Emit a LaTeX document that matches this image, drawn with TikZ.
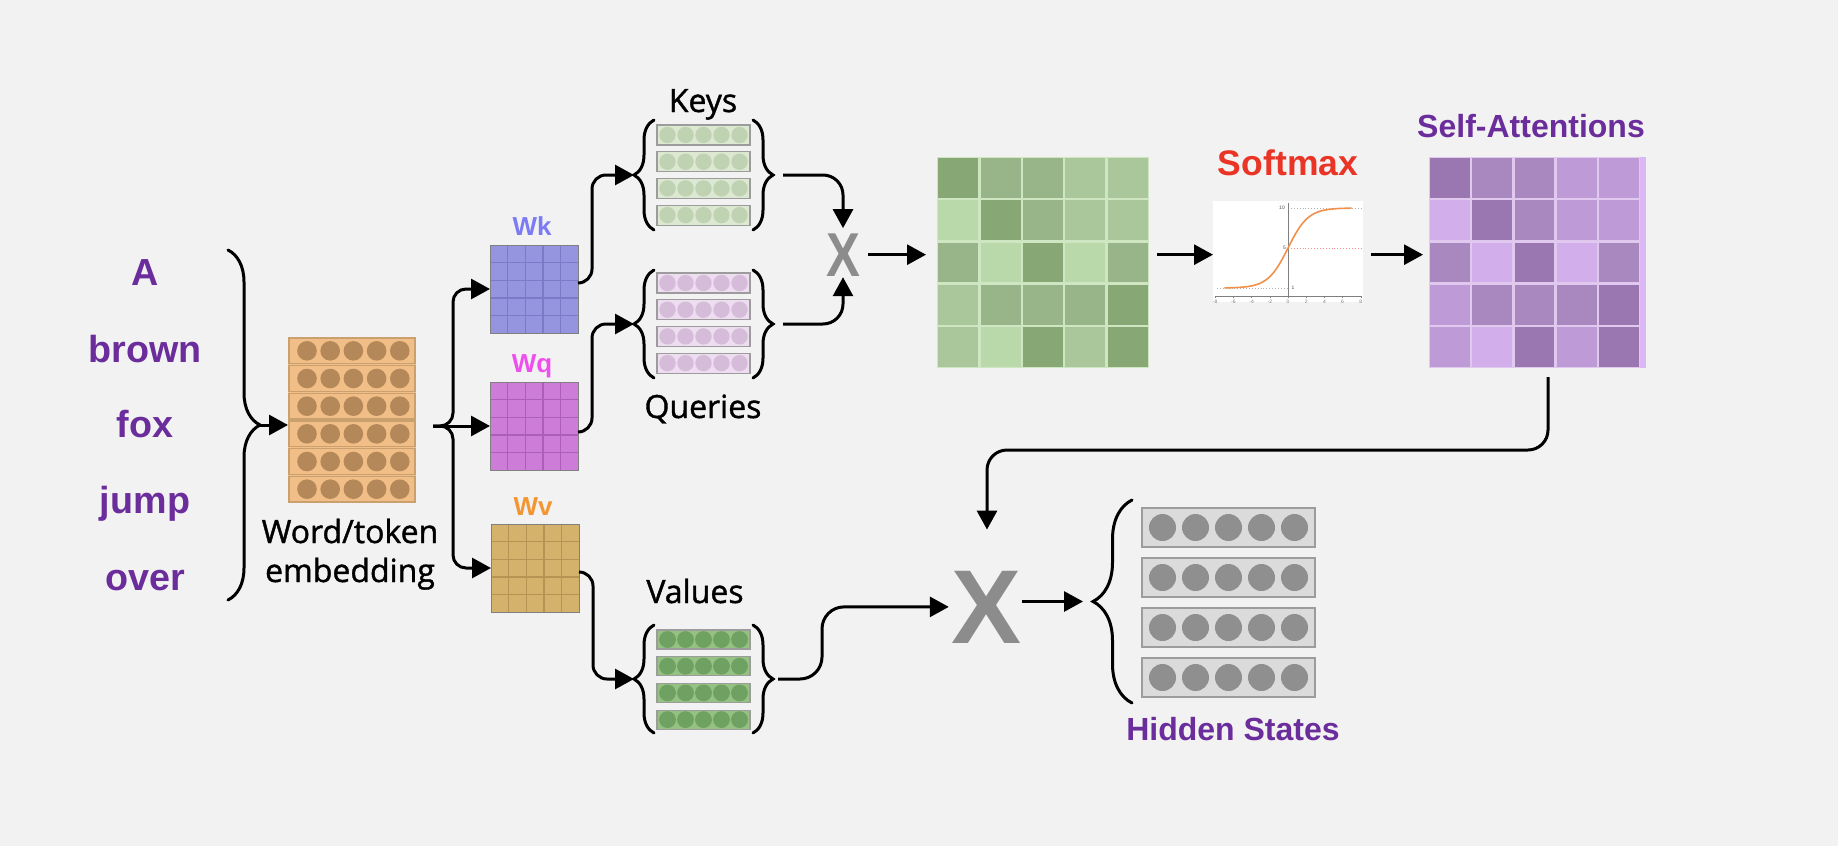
\documentclass[tikz,border=0pt]{standalone}
\usepackage{graphicx}
\usepackage{fontspec}
\setmainfont{Liberation Sans}
\newfontfamily\osans[FakeBold=1.2]{Open Sans}
\usetikzlibrary{decorations.pathreplacing,arrows.meta}

\definecolor{bg}{HTML}{F2F2F2}
\definecolor{purp}{HTML}{6B2D9B}
\definecolor{embfill}{HTML}{F0BE86}
\definecolor{embline}{HTML}{C9A06E}
\definecolor{embdot}{HTML}{B48858}
\definecolor{wkfill}{HTML}{9595DF}
\definecolor{wkline}{HTML}{7A7AC6}
\definecolor{wqfill}{HTML}{CD7DD8}
\definecolor{wqline}{HTML}{AD5DBA}
\definecolor{wvfill}{HTML}{D5B26C}
\definecolor{wvline}{HTML}{B69453}
\definecolor{keyfill}{HTML}{DDE8D3}
\definecolor{keydot}{HTML}{BFD2B1}
\definecolor{qfill}{HTML}{EEDDF0}
\definecolor{qdot}{HTML}{D5BCD9}
\definecolor{vfill}{HTML}{95C283}
\definecolor{vdot}{HTML}{6FA162}
\definecolor{hidfill}{HTML}{DBDBDB}
\definecolor{hiddot}{HTML}{8F8F8F}
\definecolor{rowline}{HTML}{9C9C9C}
\definecolor{g1}{HTML}{87A874}
\definecolor{g2}{HTML}{97B588}
\definecolor{g3}{HTML}{A9C79B}
\definecolor{g4}{HTML}{BAD9AA}
\definecolor{gsep}{HTML}{CFE6C3}
\definecolor{p1}{HTML}{9A77B1}
\definecolor{p2}{HTML}{A988C0}
\definecolor{p3}{HTML}{BE9BD6}
\definecolor{p4}{HTML}{D2AFEA}
\definecolor{psep}{HTML}{E0C8EE}
\definecolor{pstrip}{HTML}{DAB8F3}
\definecolor{wkc}{HTML}{7B7BF3}
\definecolor{wqc}{HTML}{EE4FEE}
\definecolor{wvc}{HTML}{F39632}
\definecolor{softred}{HTML}{EA3425}
\definecolor{xgray}{HTML}{8C8C8C}
\definecolor{sigm}{HTML}{F0904A}

\tikzset{
  arr/.style={line width=3pt, -{Triangle[length=19pt,width=20pt]}},
  curly/.style={line width=3pt, line cap=round, decorate, decoration={brace, amplitude=#1}},
  wordtxt/.style={font=\bfseries\fontsize{37.7}{40}\selectfont, text=purp, anchor=base},
  lbl/.style={font=\osans\fontsize{32}{38}\selectfont, anchor=base},
  wlbl/.style={font=\bfseries\fontsize{26}{30}\selectfont, anchor=base},
  ttl/.style={font=\bfseries\fontsize{32}{36}\selectfont, text=purp, anchor=base},
  box/.style={inner sep=0pt, outer sep=0pt, draw=none},
  tiny/.style={font=\fontsize{5}{5}\selectfont, text=gray, inner sep=0pt},
}

\newcommand\wgrid[4]{%
  \fill[#3] (#1,#2) rectangle ++(88,88);
  \foreach \k in {1,...,4}{
    \draw[#4, line width=1.4pt] ({#1+\k*17.6},#2) -- ++(0,88);
    \draw[#4, line width=1.4pt] (#1,{#2+\k*17.6}) -- ++(88,0);
  }
  \draw[gray, line width=1pt] (#1,#2) rectangle ++(88,88);
}

\newcommand\rowstack[9]{%
  \foreach \r in {0,...,3}{
    \draw[fill=#6, draw=rowline, line width=1.2pt] (#1,{#2+\r*#5}) rectangle ++(#3,#4);
    \foreach \c in {0,...,4}{
      \fill[#7] ({#1+(#3-4*#9)/2+\c*#9},{#2+\r*#5+#4/2}) circle (#8);
    }
  }
}

\begin{document}
\begin{tikzpicture}[x=1pt,y=-1pt]
\fill[bg] (0,0) rectangle (1838,846);
\useasboundingbox (0,0) rectangle (1838,846);

% input words
\node[wordtxt] (w1) at (145,285) {A};
\node[wordtxt] (w2) at (145,362) {brown};
\node[wordtxt] (w3) at (145,437) {fox};
\node[wordtxt] (w4) at (145,513) {jump};
\node[wordtxt] (w5) at (145,590) {over};
\draw[curly=32pt] (228,250) -- (228,600);
\coordinate (btip) at (260,425);

% embedding
\node[box, fill=embfill, minimum width=128pt, minimum height=166pt] (emb) at (352,420) {};
\foreach \r in {0,...,5}{
  \draw[embline, line width=1.2pt] (289,{337+\r*27.67+1}) rectangle ++(126,25.67);
  \foreach \c in {0,...,4}
    \fill[embdot] ({307+\c*23.2},{337+\r*27.67+13.83}) circle (9.8pt);
}
\node[lbl] (embla) at (350,543) {Word/token};
\node[lbl] (emblb) at (350,582) {embedding};
\draw[arr] (btip) -- (btip -| emb.west);

% weight matrices
\node[box, minimum size=88pt] (wk) at (534,289) {};
\wgrid{490}{245}{wkfill}{wkline}
\node[box, minimum size=88pt] (wq) at (534,426) {};
\wgrid{490}{382}{wqfill}{wqline}
\node[box, minimum size=88pt] (wv) at (535,568) {};
\wgrid{491}{524}{wvfill}{wvline}
\node[wlbl, text=wkc] (wkl) at (532,235) {Wk};
\node[wlbl, text=wqc] (wql) at (532,372) {Wq};
\node[wlbl, text=wvc] (wvl) at (533,515) {Wv};

\coordinate (sp0) at (433,426);
\coordinate (sp) at (453,426);
\draw[arr] (sp0) -- (wq.west);
\draw[arr, rounded corners=13pt] (sp0) -- (sp) |- (wk.west);
\draw[arr, rounded corners=13pt] (sp0) -- (sp) |- (wv.west);

% keys / queries / values
\node[box, minimum width=93pt, minimum height=108pt] (keys) at (703.5,175) {};
\rowstack{657}{125}{93}{20}{26.7}{keyfill}{keydot}{8.2pt}{18}
\draw[curly=20pt] (654,230) -- (654,120);
\draw[curly=20pt] (753,120) -- (753,230);
\coordinate (kL) at (634,175);
\coordinate (kR) at (773,175);

\node[box, minimum width=93pt, minimum height=108pt] (queries) at (703.5,324) {};
\rowstack{657}{273}{93}{20}{26.7}{qfill}{qdot}{8.2pt}{18}
\draw[curly=20pt] (654,378) -- (654,270);
\draw[curly=20pt] (753,270) -- (753,378);
\coordinate (qL) at (634,324);
\coordinate (qR) at (773,324);

\node[box, minimum width=93pt, minimum height=108pt] (values) at (703.5,679) {};
\rowstack{657}{630}{93}{19}{26.7}{vfill}{vdot}{8.4pt}{18}
\draw[curly=20pt] (654,733) -- (654,625);
\draw[curly=20pt] (753,625) -- (753,733);
\coordinate (vL) at (634,679);
\coordinate (vR) at (773,679);

\node[lbl] (keysl) at (703,112) {Keys};
\node[lbl] (queriesl) at (703,418) {Queries};
\node[lbl] (valuesl) at (695,603) {Values};

\draw[arr, rounded corners=14pt] ([yshift=6pt]wk.east) -- ++(14,0) |- (kL);
\draw[arr, rounded corners=14pt] ([yshift=-6pt]wq.east) -- ++(14,0) |- (qL);
\draw[arr, rounded corners=14pt] ([yshift=-4pt]wv.east) -- ++(14,0) |- (vL);

% small X
\node[anchor=base, inner sep=0pt, text=xgray, font=\bfseries\fontsize{62}{62}\selectfont] (xs) at (843,276) {\scalebox{0.82}[1]{X}};
\draw[arr, rounded corners=20pt, shorten <=10pt] (kR) -| ([yshift=5pt]xs.north);
\draw[arr, rounded corners=20pt, shorten <=10pt] (qR) -| ([yshift=-1pt]xs.south);

% score matrix
\node[box, fill=gsep, minimum width=212pt, minimum height=211pt] (scores) at (1043,262.5) {};
\foreach \v [count=\i from 0] in {1,2,2,3,3, 4,1,2,3,3, 2,4,1,4,2, 3,2,2,2,1, 3,4,1,3,1}{
  \pgfmathtruncatemacro\rr{\i/5}
  \pgfmathtruncatemacro\cc{mod(\i,5)}
  \fill[g\v] ({937+\cc*42.4+1.2},{157+\rr*42.2+1.2}) rectangle ++(40,39.8);
}
\draw[arr, shorten <=8pt, shorten >=11pt] (xs.east) -- (xs.east -| scores.west);

% softmax plot
\node[box, fill=white, minimum width=150pt, minimum height=101pt] (softmax) at (1288,251.5) {};
\node[ttl, text=softred, font=\bfseries\fontsize{35.5}{40}\selectfont] (smlbl) at (1288,175) {Softmax};
\draw[gray!60, dotted, line width=0.9pt] (1288,208) -- (1361,208);
\draw[red!45, dotted, line width=0.9pt] (1288,248) -- (1361,248);
\draw[gray!60, dotted, line width=0.9pt] (1217,288) -- (1288,288);
\draw[gray, line width=0.8pt] (1215,296) -- (1361,296);
\draw[gray, line width=0.8pt] (1288,203) -- (1288,296);
\foreach \tk in {-8,-6,...,8}{
  \draw[gray, line width=0.6pt] ({1288+9.1*\tk},296) -- ++(0,2);
  \node[tiny] at ({1288+9.1*\tk},301.5) {\tk};
}
\node[tiny, text=black!70] (t10) at (1282,208) {10};
\node[tiny, text=black!70] (t5) at (1284.5,248) {5};
\node[tiny, text=black!70] (t1) at (1293,288) {1};
\draw[sigm, line width=1.6pt] plot[domain=-7:7, samples=80, smooth] ({1288+9.1*\x},{288-80/(1+exp(-0.9*\x))});
\draw[arr, shorten <=8pt] (scores.east |- xs.east) -- (softmax.west |- xs.east);

% self-attention matrix
\node[box, fill=psep, minimum width=217pt, minimum height=211pt] (attn) at (1537.5,262.5) {};
\fill[pstrip] (1640,157) rectangle (1646,368);
\foreach \v [count=\i from 0] in {1,2,2,3,3, 4,1,2,3,3, 2,4,1,4,2, 3,2,2,2,1, 3,4,1,3,1}{
  \pgfmathtruncatemacro\rr{\i/5}
  \pgfmathtruncatemacro\cc{mod(\i,5)}
  \fill[p\v] ({1429+\cc*42.2+1.2},{157+\rr*42.2+1.2}) rectangle ++(39.8,39.8);
}
\node[ttl] (salbl) at (1531,137) {Self-Attentions};
\draw[arr, shorten <=8pt, shorten >=6pt] (softmax.east |- xs.east) -- (attn.west |- xs.east);

% big X
\node[anchor=base, inner sep=0pt, text=xgray, font=\bfseries\fontsize{105}{105}\selectfont] (xb) at (987,643) {X};
\draw[arr, rounded corners=20pt, shorten >=41pt] ([xshift=10.5pt,yshift=-9pt]attn.south) -- ++(0,73) -| (xb.north);
\draw[arr, rounded corners=22pt, shorten <=5pt, shorten >=3pt] (vR) -- ++(49,0) |- (xb.west);

% hidden states
\node[box, minimum width=173pt, minimum height=189pt] (hidden) at (1228.5,602.5) {};
\rowstack{1142}{508}{173}{39}{50}{hidfill}{hiddot}{13.5pt}{33}
\draw[curly=39pt] (1132,703) -- (1132,500);
\coordinate (hL) at (1093,601.5);
\draw[arr, shorten >=10pt] (xb.east |- hL) -- (hL);
\node[ttl] (hslbl) at (1233,740) {Hidden States};
\end{tikzpicture}
\end{document}
